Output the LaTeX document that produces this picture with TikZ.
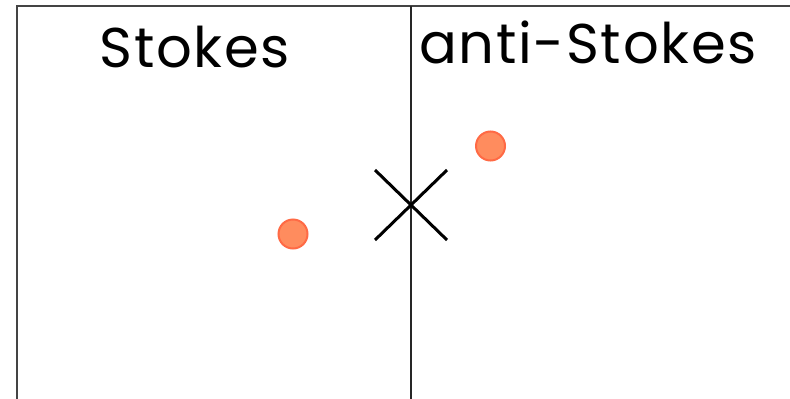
\documentclass[tikz,border=0pt]{standalone}
\usepackage{fontspec}
\setmainfont{Poppins}[LetterSpace=3]
\definecolor{dotfill}{HTML}{FF8C5E}
\definecolor{dotedge}{HTML}{FF6A45}
\definecolor{frameline}{HTML}{444444}
\begin{document}
\begin{tikzpicture}[x=1pt,y=-1pt,
  frame/.style={draw=frameline,line width=2pt},
  divider/.style={draw=black!85,line width=1.4pt},
  crossline/.style={draw=black,line width=3pt},
  dot/.style={circle,fill=dotfill,draw=dotedge,line width=2pt,minimum size=29pt,inner sep=0pt},
  label/.style={font=\fontsize{56}{62}\selectfont,anchor=base,inner sep=0pt}]
\useasboundingbox (0,0) rectangle (790,399);
\coordinate (tl) at (17,6);
\coordinate (tr) at (790,6);
\coordinate (bl) at (17,399);
\coordinate (mt) at (411,6);
\coordinate (mb) at (411,399);
\draw[frame] (bl) -- (tl) -- (tr);
\draw[divider] (mt) -- (mb);
\coordinate (c1) at (375,170);
\coordinate (c2) at (447,240);
\coordinate (c3) at (375,240);
\coordinate (c4) at (447,170);
\draw[crossline] (c1) -- (c2);
\draw[crossline] (c3) -- (c4);
\node[label] (stokes) at (195,67) {Stokes};
\node[label] (anti) at (588,63) {anti-Stokes};
\node[dot] (d1) at (293,234) {};
\node[dot] (d2) at (490.5,146) {};
\end{tikzpicture}
\end{document}
